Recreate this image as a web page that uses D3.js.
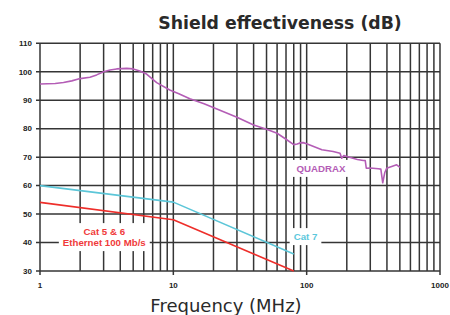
<!DOCTYPE html>
<html><head><meta charset="utf-8">
<script src="https://cdn.jsdelivr.net/npm/d3@7"></script>
<style>body{margin:0;background:#fff}svg{display:block}</style>
</head><body>
<svg id="c" width="450" height="315"></svg>
<script>
const yTicks = [30, 40, 50, 60, 70, 80, 90, 100, 110];
const xTickLabels = [1, 10, 100, 1000];
const quadraxFreq = [1, 1.3, 1.5, 1.73, 2.0, 2.37, 2.66, 3.0, 3.35, 3.76, 4.47, 5.0, 5.6, 6.3, 7.5, 9.4, 11, 13.3, 17, 21, 30, 40, 50, 60, 70, 80, 85, 89, 94, 100, 130, 158, 178, 183, 190, 200, 240, 266, 275, 280, 300, 345, 360, 372, 385, 398, 434, 473, 501];
const quadraxVals = [95.7, 95.9, 96.2, 96.8, 97.6, 98.1, 98.9, 100.0, 100.6, 101.0, 101.2, 101.0, 100.3, 99.2, 96.2, 93.6, 92.3, 90.5, 88.8, 87.0, 84.0, 81.3, 79.8, 78.4, 76.3, 74.4, 74.6, 75.0, 75.1, 74.7, 72.6, 72.0, 71.4, 69.6, 70.6, 70.2, 69.2, 68.8, 68.8, 66.1, 66.2, 65.9, 65.8, 61.0, 64.5, 66.1, 66.7, 67.3, 66.4];
const cat7Freq = [1, 10, 80];
const cat7Vals = [60, 54.2, 36];
const cat56Freq = [1, 10, 80];
const cat56Vals = [54.1, 48, 30];

const svg = d3.select("#c");
const x = d3.scaleLog().domain([1, 1000]).range([40, 440]);
const y = d3.scaleLinear().domain([30, 110]).range([271, 43.3]);

const gridX = [];
for (let d = 1; d < 1000; d *= 10) for (let k = 1; k < 10; k++) gridX.push(d * k);
gridX.push(1000);

const gridColor = "#353535";
const g = svg.append("g");
g.selectAll("line.vx").data(gridX).join("line")
  .attr("x1", d => x(d)).attr("x2", d => x(d))
  .attr("y1", y(110)).attr("y2", y(30))
  .attr("stroke", gridColor).attr("stroke-width", 1.5);
g.selectAll("line.hy").data(yTicks).join("line")
  .attr("x1", 36).attr("x2", 440)
  .attr("y1", d => y(d)).attr("y2", d => y(d))
  .attr("stroke", gridColor).attr("stroke-width", 1.5);
g.selectAll("line.xt").data(xTickLabels).join("line")
  .attr("x1", d => x(d)).attr("x2", d => x(d))
  .attr("y1", 271).attr("y2", 275)
  .attr("stroke", gridColor).attr("stroke-width", 1.5);

svg.selectAll("text.yl").data(yTicks).join("text")
  .attr("x", 32).attr("y", d => y(d)).attr("dy", "0.35em")
  .attr("text-anchor", "end")
  .attr("font-family", "Liberation Sans, Arial, sans-serif").attr("font-weight", "bold")
  .attr("font-size", 8).attr("fill", "#222").text(d => d);
svg.selectAll("text.xl").data(xTickLabels).join("text")
  .attr("x", d => x(d)).attr("y", 288)
  .attr("text-anchor", "middle")
  .attr("font-family", "Liberation Sans, Arial, sans-serif").attr("font-weight", "bold")
  .attr("font-size", 8).attr("fill", "#222").text(d => d);

const line = d3.line().x(d => x(d[0])).y(d => y(d[1]));
function series(fr, vals, color) {
  svg.append("path").datum(fr.map((f, i) => [f, vals[i]]))
    .attr("d", line).attr("fill", "none").attr("stroke", color)
    .attr("stroke-width", 1.6).attr("stroke-linejoin", "round");
}
series(cat7Freq, cat7Vals, "#5cc6d8");
series(cat56Freq, cat56Vals, "#ee2e2a");
series(quadraxFreq, quadraxVals, "#b45db6");

function label(lines, cx, cy, color, lh) {
  const grp = svg.append("g");
  const t = grp.append("text").attr("text-anchor", "middle")
    .attr("font-family", "Liberation Sans, Arial, sans-serif").attr("font-weight", "bold")
    .attr("font-size", 9.7).attr("fill", color);
  lines.forEach((s, i) => t.append("tspan").attr("x", cx).attr("y", cy + i * lh).attr("dy", "0.35em").text(s));
  const bb = t.node().getBBox();
  grp.insert("rect", "text").attr("x", bb.x - 4).attr("y", bb.y - 3)
    .attr("width", bb.width + 8).attr("height", bb.height + 6).attr("fill", "#fff");
}
label(["QUADRAX"], 321, 168.5, "#b45db6", 0);
label(["Cat 7"], 305.5, 236.7, "#5cc8dc", 0);
label(["Cat 5 & 6", "Ethernet 100 Mb/s"], 104.3, 231.7, "#f03a3a", 11);

svg.append("text").attr("x", 280).attr("y", 29)
  .attr("text-anchor", "middle").attr("font-family", "DejaVu Sans, sans-serif")
  .attr("font-weight", "bold").attr("font-size", 17.3).attr("fill", "#2a2a2a")
  .text("Shield effectiveness (dB)");
svg.append("text").attr("x", 226).attr("y", 312)
  .attr("text-anchor", "middle").attr("font-family", "DejaVu Sans, sans-serif")
  .attr("font-size", 18).attr("fill", "#2a2a2a")
  .text("Frequency (MHz)");
</script>
</body></html>
